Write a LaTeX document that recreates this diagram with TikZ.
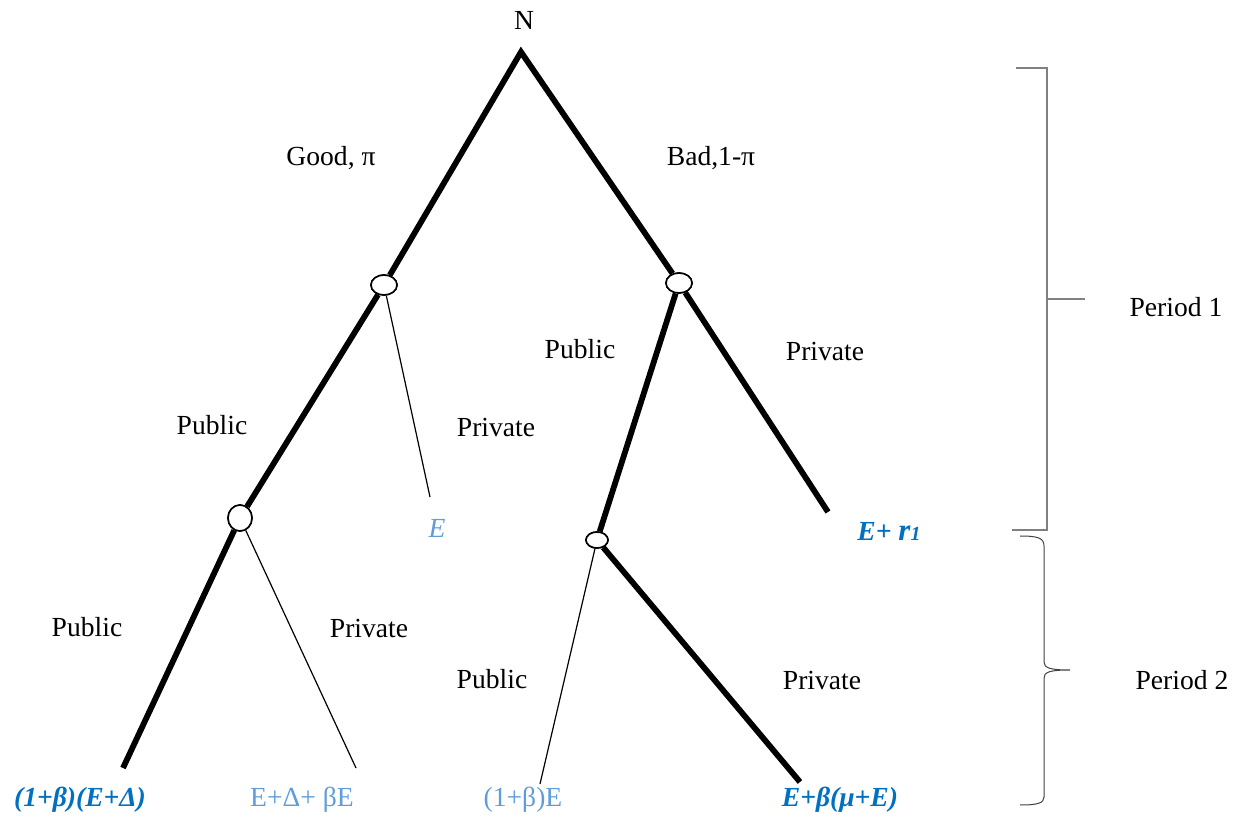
\documentclass[tikz,border=0pt]{standalone}
\usepackage{fontspec}
\setmainfont{Liberation Serif}
\usetikzlibrary{shapes.geometric}

\definecolor{payblue}{RGB}{0,112,192}
\definecolor{paylight}{RGB}{96,157,216}
\definecolor{bracketgray}{RGB}{128,128,128}

\begin{document}
\begin{tikzpicture}[
    x=0.5pt, y=-0.5pt,
    font=\fontsize{13.8}{16}\selectfont,
    heavy/.style={line width=2.9pt},
    light/.style={line width=0.6pt},
    chance/.style={ellipse, draw, line width=0.8pt, fill=white, inner sep=0pt},
    payoff/.style={text=payblue, font=\fontsize{13.8}{16}\selectfont\bfseries\itshape},
    payoffalt/.style={text=paylight}
]
    \useasboundingbox (0,0) rectangle (1244,834);

    % Nature
    \coordinate (root) at (521,52);
    \node (nat) at (524,20) {N};

    % Decision nodes
    \node[chance, minimum width=13pt, minimum height=10pt] (gd) at (384,285) {};
    \node[chance, minimum width=13pt, minimum height=10pt] (bd) at (679,283) {};
    \node[chance, minimum width=12pt, minimum height=13pt] (gp) at (240,518) {};
    \node[chance, minimum width=11pt, minimum height=8pt] (bp) at (597,540) {};

    % Leaf ends
    \coordinate (gE) at (430,497);
    \coordinate (bR) at (828,512);
    \coordinate (ppu) at (123,768);
    \coordinate (ppr) at (356,768);
    \coordinate (bpu) at (540,784);
    \coordinate (bpr) at (800,782);

    % Branches
    \draw[heavy] (gd) -- (root) -- (bd);
    \draw[heavy] (gd) -- (gp);
    \draw[light] (gd) -- (gE);
    \draw[heavy] (bd) -- (bp);
    \draw[heavy] (bd) -- (bR);
    \draw[heavy] (gp) -- (ppu);
    \draw[light] (gp) -- (ppr);
    \draw[light] (bp) -- (bpu);
    \draw[heavy] (bp) -- (bpr);

    % Redraw nodes on top
    \node[chance, minimum width=13pt, minimum height=10pt] at (gd) {};
    \node[chance, minimum width=13pt, minimum height=10pt] at (bd) {};
    \node[chance, minimum width=12pt, minimum height=13pt] at (gp) {};
    \node[chance, minimum width=11pt, minimum height=8pt] at (bp) {};

    % Branch labels
    \node (lgood) at (331,158) {Good, π};
    \node (lbad) at (711,158) {Bad,1-π};
    \node (lgpu) at (212,425) {Public};
    \node (lgpr) at (496,427) {Private};
    \node (lbpu) at (580,349) {Public};
    \node (lbpr) at (825,351) {Private};
    \node (lppu) at (87,627) {Public};
    \node (lppr) at (369,628) {Private};
    \node (lbbu) at (492,679) {Public};
    \node (lbbr) at (822,680) {Private};

    % Payoffs
    \node[payoffalt, font=\fontsize{13.8}{16}\selectfont\itshape] (vE) at (437,528) {E};
    \node[payoff] (vR) at (889,531) {E+ {\fontsize{15.5}{16}\selectfont r}{\fontsize{10}{12}\selectfont 1}};
    \node[payoff] (vpp) at (80,800) {(1+β)(E+Δ)};
    \node[payoffalt] (vpr) at (302,800) {E+Δ+ βE};
    \node[payoffalt] (vbu) at (523,800) {(1+β)E};
    \node[payoff] (vbr) at (840,800) {E+β(μ+E)};

    % Periods
    \draw[bracketgray, line width=0.8pt] (1016,68) -- (1047,68) -- (1047,530) -- (1012,530);
    \draw[bracketgray, line width=0.8pt] (1047,299) -- (1085,299);
    \node (p1) at (1176,307) {Period 1};
    \draw[darkgray, line width=0.5pt]
        (1020,536) .. controls (1038,536) and (1044,538) .. (1044,546)
        -- (1044,662) .. controls (1044,668) and (1050,670) .. (1070,670)
        .. controls (1050,670) and (1044,672) .. (1044,678)
        -- (1044,797) .. controls (1044,803) and (1038,805) .. (1020,805);
    \node (p2) at (1182,680) {Period 2};

\end{tikzpicture}
\end{document}
